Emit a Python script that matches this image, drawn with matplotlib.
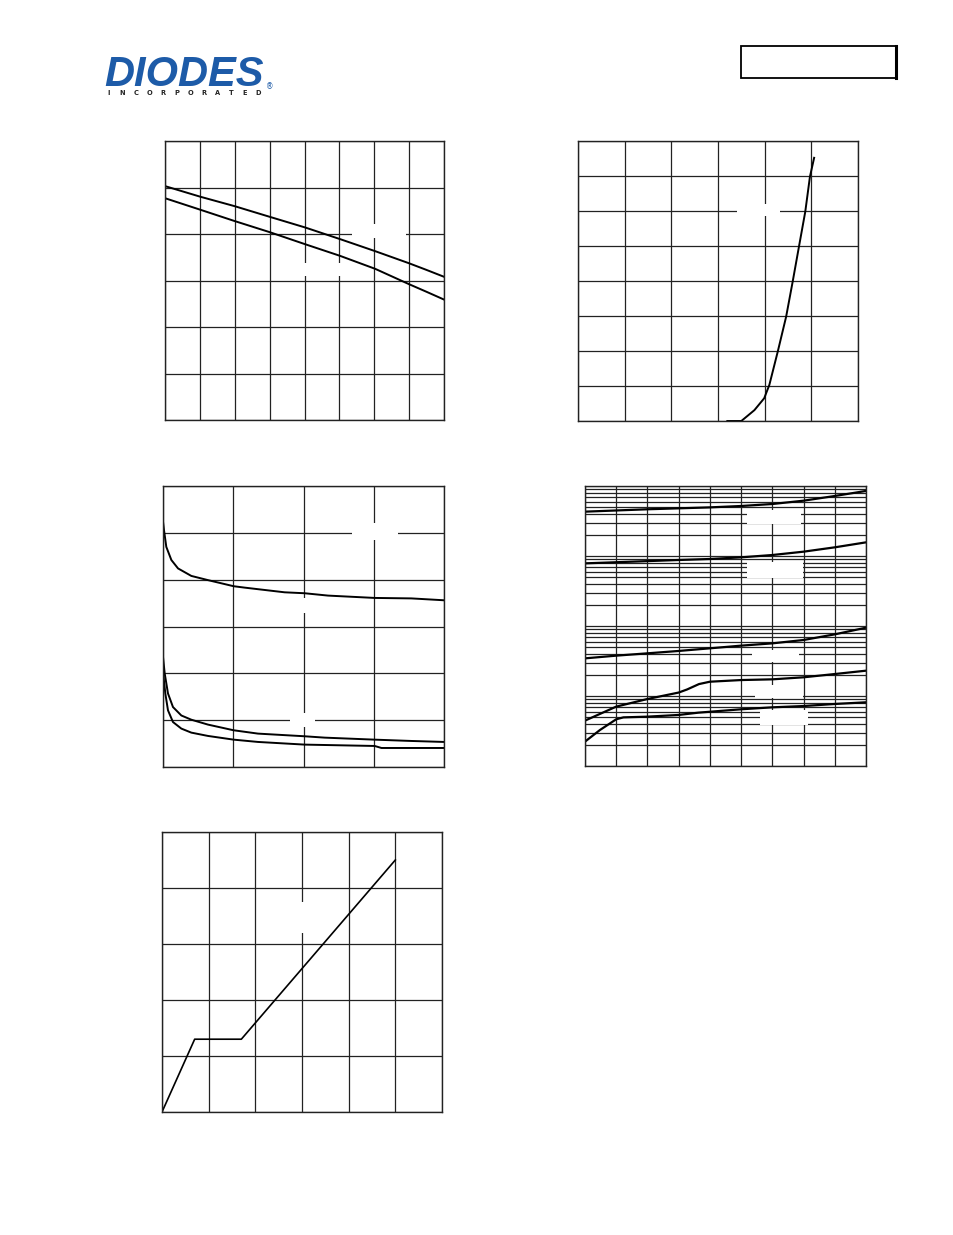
import numpy as np
import matplotlib
matplotlib.use("Agg")
import matplotlib.pyplot as plt
from matplotlib.patches import Rectangle
from matplotlib.ticker import FixedLocator, LogLocator, NullFormatter

W, H = 954, 1235

# --- chart 1 (top left): two falling curves
c1_x = [0, 1.02, 1.99, 3.0, 4.02, 5.02, 6.03, 7.0, 7.49, 8.0]
c1_upper = [5.03, 4.80, 4.60, 4.37, 4.14, 3.89, 3.63, 3.37, 3.23, 3.08]
c1_lower = [4.77, 4.52, 4.28, 4.04, 3.78, 3.53, 3.25, 2.92, 2.76, 2.59]

# --- chart 2 (top right): steep rising curve
c2_x = [3.20, 3.50, 3.78, 3.99, 4.10, 4.28, 4.46, 4.60, 4.74, 4.87, 4.97, 5.06]
c2_y = [0.0, 0.0, 0.31, 0.65, 1.03, 1.98, 2.98, 3.98, 5.02, 5.98, 6.98, 7.52]

# --- chart 3 (middle left): three decaying curves
c3_top_x = [0, 0.014, 0.047, 0.119, 0.214, 0.403, 0.641, 1.006, 1.163, 1.732, 2.017, 2.349, 3.013, 3.535, 4.0]
c3_top_y = [5.24, 5.06, 4.70, 4.42, 4.24, 4.08, 3.99, 3.86, 3.83, 3.73, 3.71, 3.66, 3.61, 3.60, 3.56]
c3_mid_x = [0, 0.024, 0.071, 0.142, 0.261, 0.403, 0.641, 1.006, 1.352, 2.017, 2.301, 3.013, 3.535, 4.0]
c3_mid_y = [2.35, 2.00, 1.57, 1.28, 1.10, 1.01, 0.905, 0.784, 0.713, 0.656, 0.627, 0.584, 0.556, 0.535]
c3_low_x = [0, 0.033, 0.071, 0.142, 0.261, 0.403, 0.641, 1.006, 1.352, 2.017, 3.013, 3.11, 4.0]
c3_low_y = [2.03, 1.57, 1.21, 0.96, 0.82, 0.734, 0.663, 0.584, 0.535, 0.478, 0.449, 0.406, 0.406]

# --- chart 4 (middle right): log scale, five curves
c4_a_x = [0, 2, 4, 5, 6, 7, 8, 9]
c4_a_y = [4300, 4650, 4950, 5180, 5530, 6170, 7200, 8500]
c4_b_x = [0, 3, 4, 5, 6, 7, 8, 9]
c4_b_y = [785, 877, 906, 957, 1033, 1153, 1330, 1567]
c4_c_x = [0, 1, 2, 3, 4, 5, 6, 7, 8, 9]
c4_c_y = [34.5, 37.7, 40.7, 44.0, 48.0, 52.4, 56.5, 63.1, 76.0, 94.6]
c4_d_x = [0, 1, 2, 3, 3.27, 3.65, 4, 5, 6, 7, 8, 9]
c4_d_y = [4.45, 7.05, 9.06, 11.2, 12.4, 14.8, 16.0, 16.9, 17.3, 18.5, 20.6, 23.0]
c4_e_x = [0, 0.48, 1, 1.23, 2, 3, 3.63, 5, 6, 7, 8, 9]
c4_e_y = [2.23, 3.27, 4.65, 4.95, 5.07, 5.36, 5.78, 6.46, 6.89, 7.19, 7.69, 8.13]

# --- chart 5 (bottom left): piecewise linear
c5_x = [0, 0.7, 1.7, 5.0]
c5_y = [0, 1.3, 1.3, 4.5]

logo_sub = list("INCORPORATED")

fig = plt.figure(figsize=(W / 100, H / 100), dpi=100)


def px_axes(l, t, r, b):
    return fig.add_axes([l / W, 1 - b / H, (r - l) / W, (b - t) / H])


def style(ax, xmax, ymax, log=False):
    ax.set_xlim(0, xmax)
    ax.xaxis.set_major_locator(FixedLocator(range(xmax + 1)))
    if log:
        ax.set_yscale("log")
        ax.set_ylim(1, ymax)
        ax.yaxis.set_minor_locator(LogLocator(subs=range(2, 10), numticks=20))
        ax.yaxis.set_minor_formatter(NullFormatter())
        ax.grid(True, which="both", axis="y", color="#222222", lw=0.9)
        ax.grid(True, which="major", axis="x", color="#222222", lw=0.9)
    else:
        ax.set_ylim(0, ymax)
        ax.yaxis.set_major_locator(FixedLocator(range(ymax + 1)))
        ax.grid(True, color="#222222", lw=0.9)
    ax.set_axisbelow(True)
    ax.tick_params(which="both", length=0, labelleft=False, labelbottom=False)
    for s in ax.spines.values():
        s.set_color("#222222")
        s.set_linewidth(1.0)


def masks(ax, boxes):
    # white boxes where labels sit on the grid
    for x0, x1, y0, y1 in boxes:
        ax.add_patch(Rectangle((x0, y0), x1 - x0, y1 - y0, transform=ax.transAxes,
                               facecolor="white", edgecolor="none", zorder=1.5))


LW = 1.4

ax1 = px_axes(165, 141, 444, 420)
style(ax1, 8, 6)
masks(ax1, [(0.670, 0.864, 0.652, 0.703), (0.48, 0.65, 0.516, 0.563)])
ax1.plot(c1_x, c1_upper, color="black", lw=LW, zorder=2)
ax1.plot(c1_x, c1_lower, color="black", lw=LW, zorder=2)

ax2 = px_axes(578, 141, 858, 421)
style(ax2, 6, 8)
masks(ax2, [(0.567, 0.723, 0.731, 0.774)])
ax2.plot(c2_x, c2_y, color="black", lw=LW, zorder=2, clip_on=False)

ax3 = px_axes(163, 486, 444, 767)
style(ax3, 4, 6)
masks(ax3, [(0.674, 0.836, 0.808, 0.868), (0.44, 0.57, 0.547, 0.601), (0.452, 0.541, 0.141, 0.191)])
ax3.plot(c3_top_x, c3_top_y, color="black", lw=LW, zorder=2)
ax3.plot(c3_mid_x, c3_mid_y, color="black", lw=LW, zorder=2)
ax3.plot(c3_low_x, c3_low_y, color="black", lw=LW, zorder=2)

ax4 = px_axes(585, 486, 866, 766)
style(ax4, 9, 1e4, log=True)
masks(ax4, [(0.577, 0.769, 0.865, 0.915), (0.577, 0.775, 0.673, 0.730),
            (0.594, 0.762, 0.370, 0.413), (0.606, 0.775, 0.242, 0.288),
            (0.623, 0.793, 0.146, 0.199)])
for xs, ys in [(c4_a_x, c4_a_y), (c4_b_x, c4_b_y), (c4_c_x, c4_c_y),
               (c4_d_x, c4_d_y), (c4_e_x, c4_e_y)]:
    ax4.plot(xs, ys, color="black", lw=LW + 0.2, zorder=2)

ax5 = px_axes(162, 832, 442, 1112)
style(ax5, 6, 5)
masks(ax5, [(0.44, 0.56, 0.64, 0.75)])
ax5.plot(c5_x, c5_y, color="black", lw=LW - 0.2, zorder=2)

# logo
blue = "#1d5ba8"
fig.text(104 / W, 1 - 86 / H, "DIODES", color=blue, fontsize=30, fontweight="heavy",
         fontstyle="italic", family="Liberation Sans", ha="left", va="baseline")
fig.add_artist(plt.Line2D([106 / W, 222 / W], [1 - 70 / H, 1 - 70 / H], color="white", lw=1.4))
for i, ch in enumerate(logo_sub):
    fig.text((109 + i * 13.6) / W, 1 - 95 / H, ch, color="#222222", fontsize=4.8,
             fontweight="bold", family="DejaVu Sans", ha="center", va="baseline")
fig.text(266 / W, 1 - 89 / H, "®", color=blue, fontsize=5.5, ha="left", va="baseline")

# header box
fig.add_artist(Rectangle((741 / W, 1 - 78 / H), 155 / W, 32 / H, transform=fig.transFigure,
                         facecolor="none", edgecolor="black", lw=1.3))
fig.add_artist(plt.Line2D([896 / W, 896 / W], [1 - 78 / H, 1 - 46 / H], color="black", lw=2.2))

fig.savefig("out.png", dpi=100)
